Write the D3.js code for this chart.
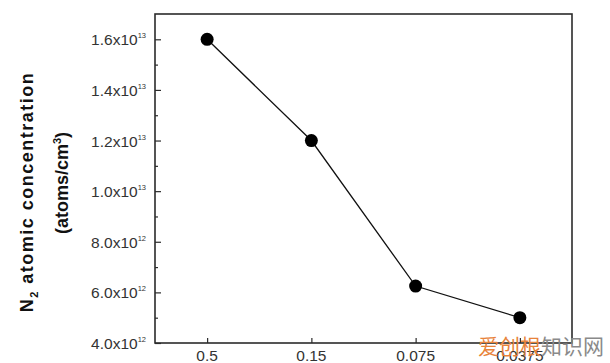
<!DOCTYPE html>
<html>
<head>
<meta charset="utf-8">
<script src="https://cdn.jsdelivr.net/npm/d3@7"></script>
<style>
    body { margin: 0; background: #fff; }
    svg { display: block; font-family: Arial, "Liberation Sans", sans-serif; }
</style>
</head>
<body>
<div id="chart"></div>
<script>
(function () {

    'use strict';

    // gas flow ratios on the x axis, read as categories
    var categories = ['0.5', '0.15', '0.075', '0.0375'];
    // N2 atomic concentration, in 1e12 atoms/cm3
    var concentration = [16.0, 12.0, 6.25, 5.0];
    // y tick values (1e12) and their labels
    var yTickValues = [4, 6, 8, 10, 12, 14, 16];
    var yTickMant = ['4.0', '6.0', '8.0', '1.0', '1.2', '1.4', '1.6'];
    var yTickExp = ['12', '12', '12', '13', '13', '13', '13'];
    var yMinorValues = [5, 7, 9, 11, 13, 15];

    var width = 610, height = 363;
    var left = 155, right = 572, top = 14, bottom = 343;

    var svg = d3.select('#chart')
        .append('svg')
            .attr('width', width)
            .attr('height', height);

    var x = d3.scaleLinear()
        .domain([-0.5, categories.length - 0.5])
        .range([left, right]);

    var y = d3.scaleLinear()
        .domain([4, 17])
        .range([bottom, top]);

    // < frame >
    svg.append('rect')
        .attr('x', left)
        .attr('y', top)
        .attr('width', right - left)
        .attr('height', bottom - top)
        .attr('fill', 'none')
        .attr('stroke', '#2b2b2b')
        .attr('stroke-width', 1.6);

    // left axis, ticks point inward
    var yAxis = svg.append('g')
        .attr('transform', 'translate(' + left + ',0)')
        .call(d3.axisRight(y).tickValues(yTickValues).tickSize(6).tickFormat(''));
    yAxis.select('.domain').remove();

    svg.append('g')
        .attr('transform', 'translate(' + left + ',0)')
        .call(d3.axisRight(y).tickValues(yMinorValues).tickSize(3).tickFormat(''))
        .select('.domain').remove();

    svg.selectAll('.tick line')
        .attr('stroke', '#2b2b2b')
        .attr('stroke-width', 1.2);

    // y tick labels: mantissa x 10 with superscript exponent
    var yLabels = svg.append('g');
    yTickValues.forEach(function (v, i) {
        var t = yLabels.append('text')
            .attr('x', left - 9)
            .attr('y', y(v) + 6)
            .attr('text-anchor', 'end')
            .attr('fill', '#333')
            .style('font-size', '15.5px');
        t.append('tspan').text(yTickMant[i] + 'x10');
        t.append('tspan')
            .attr('dy', -7)
            .style('font-size', '7.5px')
            .text(yTickExp[i]);
    });

    // bottom axis, ticks point inward
    var xAxis = svg.append('g')
        .attr('transform', 'translate(0,' + bottom + ')')
        .call(d3.axisTop(x).tickValues(d3.range(categories.length)).tickSize(5).tickFormat(''));
    xAxis.select('.domain').remove();
    xAxis.selectAll('.tick line')
        .attr('stroke', '#2b2b2b')
        .attr('stroke-width', 1.2);

    svg.append('g')
        .selectAll('text')
        .data(categories)
        .enter()
        .append('text')
            .attr('x', function (d, i) { return x(i); })
            .attr('y', bottom + 18)
            .attr('text-anchor', 'middle')
            .attr('fill', '#333')
            .style('font-size', '15.5px')
            .text(function (d) { return d; });

    // y axis title, two lines
    var title1 = svg.append('text')
        .attr('transform', 'translate(33,192) rotate(-90)')
        .attr('text-anchor', 'middle')
        .attr('fill', '#111')
        .style('font-size', '18px')
        .style('font-weight', 'bold')
        .style('letter-spacing', '1.5px');
    title1.append('tspan').text('N');
    title1.append('tspan').attr('dy', 5).style('font-size', '11px').text('2');
    title1.append('tspan').attr('dy', -5).text(' atomic concentration');

    var title2 = svg.append('text')
        .attr('transform', 'translate(68,183) rotate(-90)')
        .attr('text-anchor', 'middle')
        .attr('fill', '#111')
        .style('font-size', '18px')
        .style('font-weight', 'bold');
    title2.append('tspan').text('(atoms/cm');
    title2.append('tspan').attr('dy', -7).style('font-size', '11px').text('3');
    title2.append('tspan').attr('dy', 7).text(')');

    // < data line and markers >
    var line = d3.line()
        .x(function (d, i) { return x(i); })
        .y(function (d) { return y(d); });

    svg.append('path')
        .datum(concentration)
        .attr('d', line)
        .attr('fill', 'none')
        .attr('stroke', '#111')
        .attr('stroke-width', 1.3);

    svg.append('g')
        .selectAll('circle')
        .data(concentration)
        .enter()
        .append('circle')
            .attr('cx', function (d, i) { return x(i); })
            .attr('cy', function (d) { return y(d); })
            .attr('r', 6.5)
            .attr('fill', '#000');

    // site watermark in the corner
    var mark = svg.append('text')
        .attr('x', 478)
        .attr('y', 354)
        .style('font-family', '"Noto Sans CJK SC", sans-serif')
        .style('font-size', '21px');
    mark.append('tspan').attr('fill', '#e8833a').text('爱创根');
    mark.append('tspan').attr('fill', '#8a8a8a').text('知识网');

}());
</script>
</body>
</html>
